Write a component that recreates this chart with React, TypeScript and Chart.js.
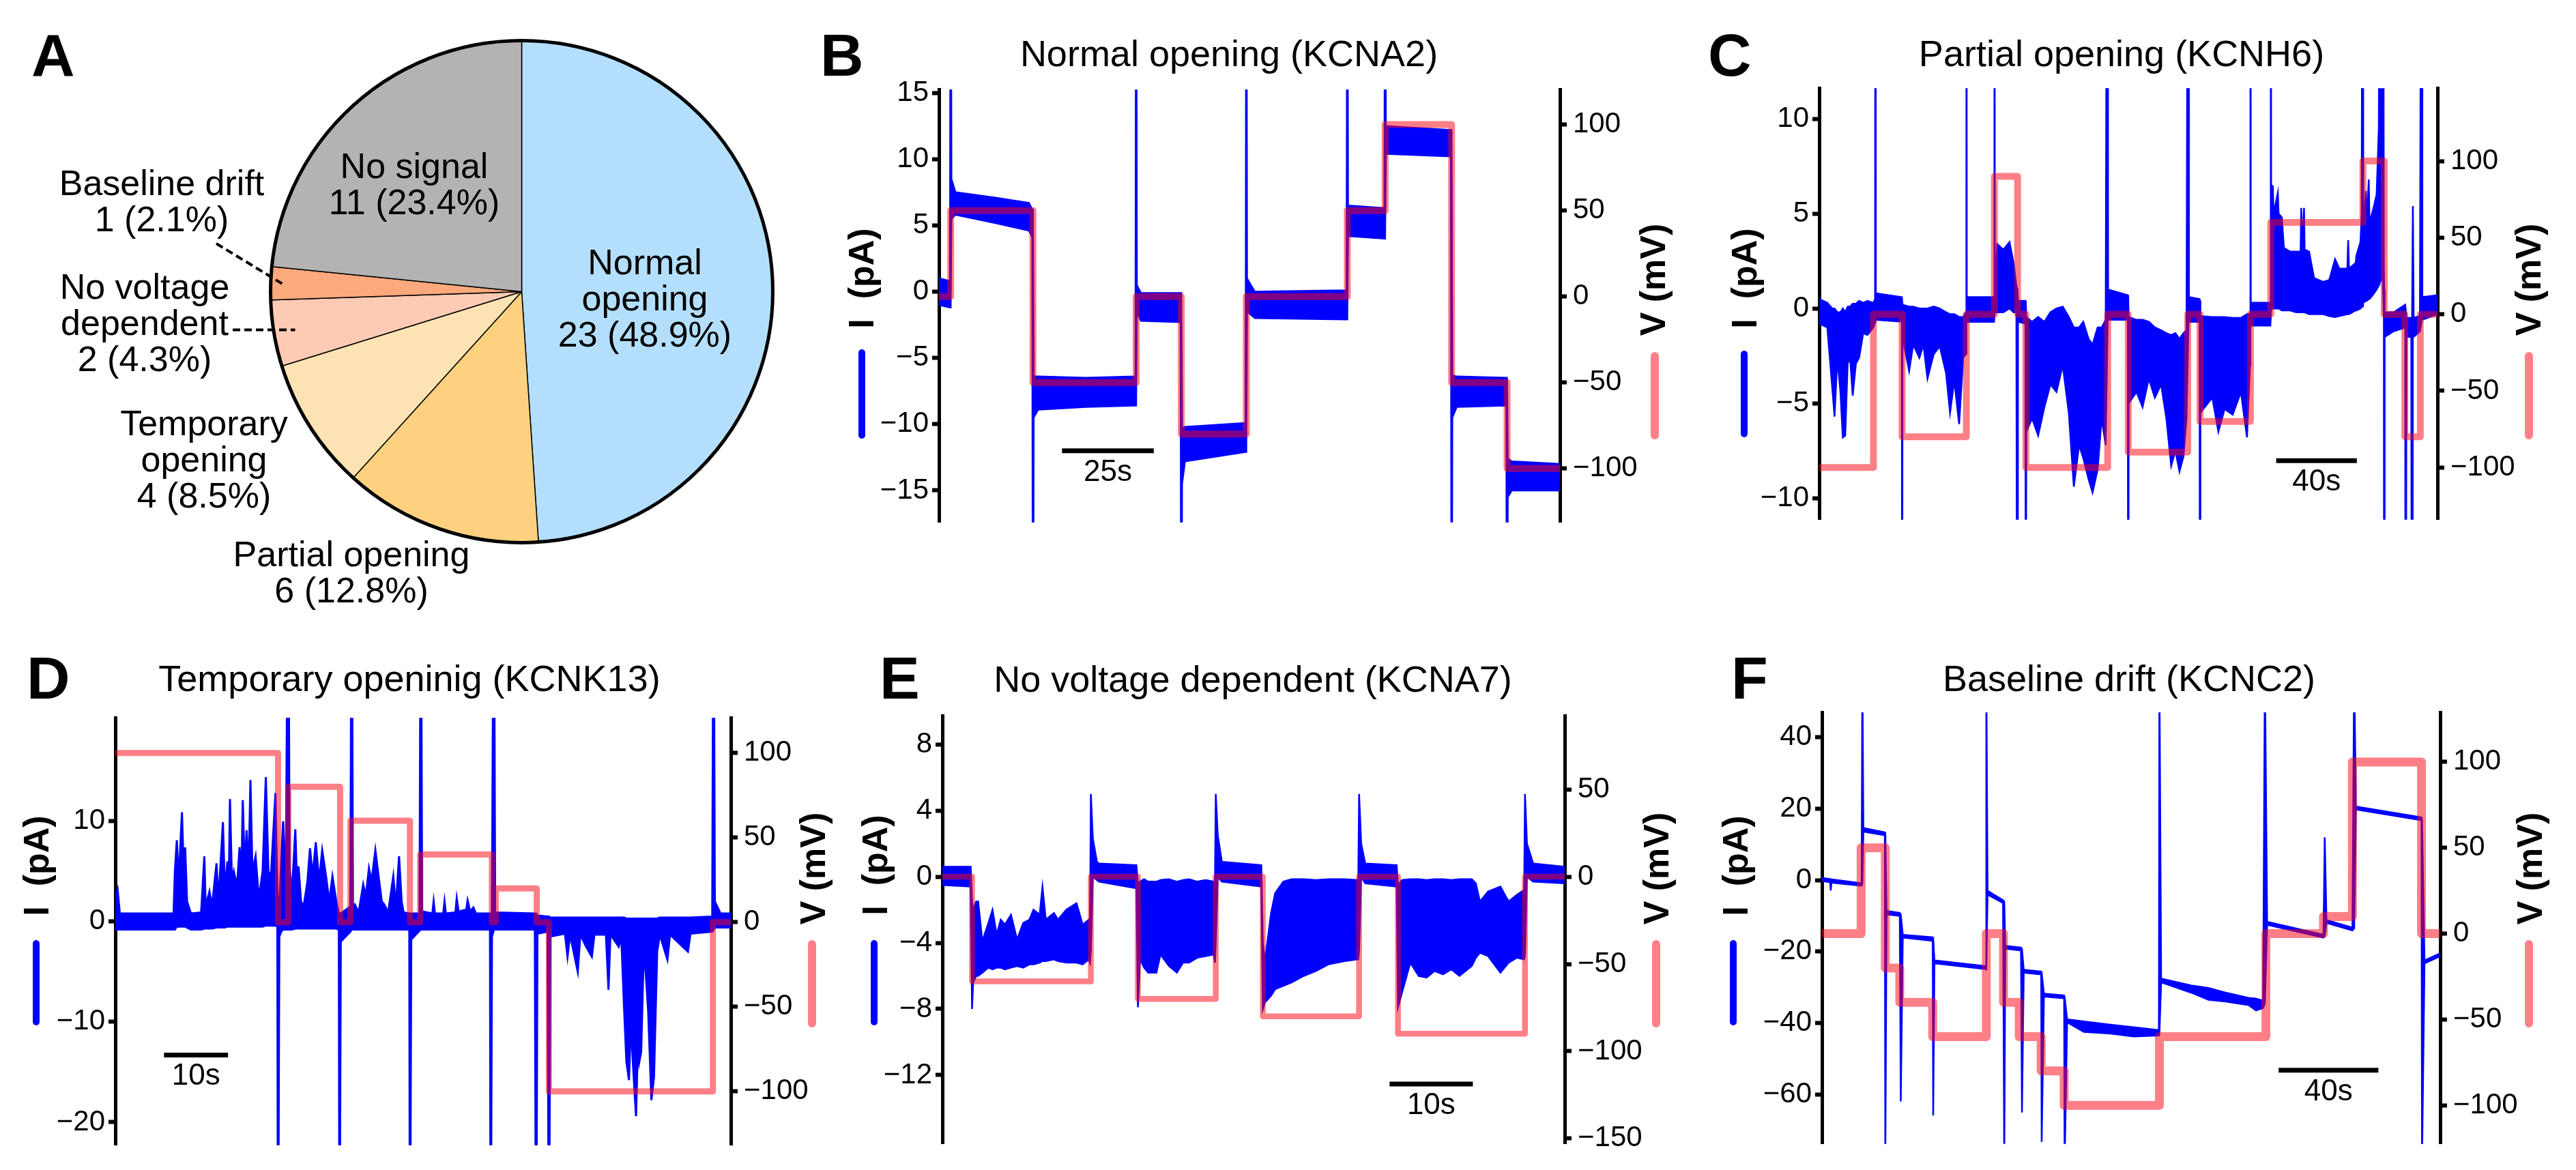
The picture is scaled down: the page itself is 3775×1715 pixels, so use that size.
import React, { useEffect, useRef } from 'react';
import { Chart, registerables } from 'chart.js';
Chart.register(...registerables);

const FONT = "'Liberation Sans', Arial, Helvetica, sans-serif";
Chart.defaults.font.family = FONT;
const BLUE = '#0000ff';
const PINK = 'rgba(255, 0, 16, 0.5)';
const PINK_SOLID = '#ff8088';

// ---------------- Panel A data ----------------
const PIE_CATEGORIES = ['Normal opening', 'Partial opening', 'Temporary opening', 'No voltage dependent', 'Baseline drift', 'No signal'];
const PIE_COUNTS = [23, 6, 4, 2, 1, 11];
const PIE_LABEL_LINES = [['Normal', 'opening'], ['Partial opening'], ['Temporary', 'opening'], ['No voltage', 'dependent'], ['Baseline drift'], ['No signal']];

// ---------------- Panel B data (KCNA2) : [t (s), I upper (pA), I lower (pA)] ----------------
const B_TRACE = [
  [0, 1.0, -1.0], [3.0, 0.8, -1.2], [3.2, 40, -1.2], [3.4, 8.5, 5.5], [4.5, 7.5, 5.8], [15, 7.1, 5.2], [24.5, 6.7, 4.6], [25.4, 6.2, 4.1],
  [25.6, 6.2, -40], [25.8, -6.4, -9.5], [27, -6.4, -8.9], [40, -6.5, -8.7], [53.5, -6.4, -8.6], [53.7, 40, -8.6], [53.9, 0.5, -1.5],
  [55, -0.1, -2.2], [65.8, -0.1, -2.3], [66.0, -0.1, -40], [66.2, -10.3, -14.5], [67, -10.2, -12.8], [83.5, -9.9, -12.1], [83.7, 40, -12.1],
  [83.9, 1.0, -1.5], [86, 0.0, -2.0], [111.0, 0.1, -2.1], [111.2, 40, -2.1], [111.4, 6.5, 4.2], [121.3, 6.3, 4.0], [121.5, 40, 4.0],
  [121.7, 12.5, 10.4], [139.4, 12.2, 10.2], [139.6, 12.2, -40], [139.8, -6.3, -9.5], [141, -6.4, -8.7], [154.5, -6.5, -8.6],
  [154.7, -6.5, -40], [154.9, -12.6, -15.5], [156, -12.8, -15.0], [169.1, -13.0, -15.0],
];
const B_STEPS = [[0, 0], [3.2, 50], [25.6, -50], [53.7, 0], [66.0, -80], [83.7, 0], [111.2, 50], [121.5, 100], [139.6, -50], [154.7, -100], [169.1, -100]];
const B_I_TICKS = [-15, -10, -5, 0, 5, 10, 15];
const B_V_TICKS = [-100, -50, 0, 50, 100];
const B_BAR = [33.5, 58.5];

// ---------------- Panel C data (KCNH6) ----------------
const C_TRACE = [
  [0, 0.5, -0.8], [4.0, 0.3, -1.0], [6.4, 0.0, -4.1], [7.6, 0.0, -5.7], [9.0, -0.2, -2.6], [10.5, -0.2, -4.4], [11.7, 0.0, -6.8],
  [12.9, -0.2, -6.7], [14.1, 0.1, -2.9], [15.3, 0.1, -2.6], [16.6, 0.25, -4.6], [18.2, 0.25, -2.9], [19.8, 0.4, -2.6], [21.8, 0.3, -1.3],
  [23.9, 0.4, -1.4], [26.9, 0.3, -1.0], [27.7, 0.5, -0.7], [27.9, 40, -0.7], [28.1, 0.8, -0.6], [41.0, 0.6, -0.7], [41.1, 0.6, -40],
  [41.3, 0.2, -1.5], [44.6, 0.1, -3.3], [46.6, 0.1, -1.9], [49.7, 0.0, -2.6], [51.7, 0.0, -1.9], [53.7, 0.0, -3.7], [56.8, 0.1, -2.4],
  [59.8, 0.0, -2.0], [62.9, -0.2, -3.4], [64.9, -0.3, -5.5], [67.0, -0.3, -3.8], [69.4, -0.45, -6.1], [71.4, -0.45, -2.6], [72.8, -0.2, -2.4],
  [73.0, 40, -0.7], [73.2, 0.6, -0.7], [86.7, 0.6, -0.7], [86.9, 40, -0.7], [87.1, 1.2, -0.2], [88.3, 3.4, -0.2], [91.3, 3.1, -0.2],
  [94.4, 3.5, 0.0], [96.4, 2.4, -0.2], [97.8, 1.2, -0.2], [98.4, 1.0, -40], [98.6, 0.4, -0.7], [102.3, 0.4, -0.8], [102.5, 0.3, -40],
  [102.7, -0.45, -6.5], [105.6, -0.7, -5.8], [108.6, -0.45, -6.7], [111.7, -0.7, -5.2], [114.7, -0.2, -4.0], [117.7, 0.0, -4.4],
  [120.8, 0.1, -3.0], [123.8, -0.45, -5.5], [126.3, -1.0, -9.4], [128.9, -1.0, -7.2], [131.0, -0.7, -7.9], [133.6, -1.6, -9.0],
  [135.6, -1.9, -9.7], [138.1, -1.0, -8.5], [140.1, -1.0, -5.8], [142.1, -0.6, -7.2], [143.1, 40, -0.6], [143.3, 1.0, -0.6],
  [153.1, 0.7, -0.6], [153.3, 0.5, -40], [153.5, -0.45, -5.0], [157.4, -0.6, -4.4], [160.4, -0.6, -5.2], [163.5, -0.7, -3.7],
  [166.5, -1.0, -4.7], [169.6, -1.15, -4.0], [172.2, -1.3, -5.8], [174.6, -1.4, -8.3], [176.7, -1.3, -7.5], [178.7, -1.6, -8.6],
  [180.7, -1.3, -7.8], [182.2, -1.15, -5.8], [183.2, 40, -0.7], [183.4, 0.6, -0.7], [188.7, 0.5, -0.7], [188.9, 0.4, -40],
  [189.1, -0.4, -5.5], [195.0, -0.45, -4.7], [198.0, -0.45, -6.5], [201.1, -0.45, -5.3], [205.1, -0.5, -5.6], [209.2, -0.5, -4.4],
  [212.2, -0.3, -6.8], [213.7, -0.3, -3.0], [213.9, 40, -0.9], [214.1, 0.3, -0.9], [223.8, 0.3, -0.9], [224.0, 40, -0.9],
  [224.2, 4.5, 0.0], [225.0, 6.5, 0.0], [225.4, 5.0, 0.0], [227.5, 6.1, 0.0], [227.9, 5.0, 0.0], [229.5, 4.8, -0.1], [230.5, 3.2, -0.1],
  [233.6, 3.0, -0.1], [236.6, 3.0, -0.2], [238.8, 3.0, -0.2], [239.1, 5.3, -0.2], [239.4, 3.2, -0.2], [240.5, 5.3, -0.2], [240.8, 3.1, -0.2],
  [243.0, 3.0, -0.3], [245.5, 1.6, -0.3], [250.0, 1.4, -0.3], [253.0, 1.5, -0.4], [255.9, 2.6, -0.45], [258.0, 2.1, -0.4], [262.0, 2.1, -0.3],
  [262.4, 3.6, -0.3], [262.8, 2.1, -0.3], [266.1, 2.4, -0.1], [266.5, 2.8, -0.1], [268.5, 3.5, 0.0], [269.1, 5.0, 0.1], [269.7, 40, 0.1],
  [269.9, 4.0, 0.3], [271.2, 6.2, 0.4], [271.6, 4.3, 0.4], [272.6, 6.8, 0.5], [273.0, 4.5, 0.5], [275.2, 5.4, 0.8], [276.5, 6.0, 1.0],
  [277.6, 9.5, 1.2], [278.6, 40, 1.5], [279.6, 40, 1.5], [280.1, 2.0, -0.5], [280.3, 1.0, -40], [280.5, -0.2, -1.5], [285.0, -0.2, -1.2],
  [290.7, 0.2, -1.0], [290.9, 0.0, -40], [291.3, -0.5, -1.5], [293.7, -0.5, -1.5], [294.1, -0.5, -40], [294.5, 5.4, -1.5],
  [294.9, -0.5, -1.5], [298.0, -0.4, -1.2], [299.0, 40, -0.6], [299.2, 0.6, -0.6], [306.7, 0.7, -0.3],
];
const C_STEPS = [[0, -100], [26.9, 0], [41.1, -80], [73.0, 0], [86.9, 90], [98.4, 0], [102.5, -100], [143.1, 0], [153.3, -90], [182.8, 0], [188.9, -70], [213.9, 0], [224.0, 60], [269.7, 100], [280.3, 0], [290.5, -80], [298.2, 0], [306.7, 0]];
const C_I_TICKS = [-10, -5, 0, 5, 10];
const C_V_TICKS = [-100, -50, 0, 50, 100];
const C_BAR = [226.7, 266.7];

// ---------------- Panel D data (KCNK13) ----------------
const D_TRACE = [
  [0, 2.5, -0.8], [0.35, 3.2, -0.8], [0.7, 0.8, -0.8], [9.1, 0.8, -0.8], [9.3, 5.0, -0.8], [9.6, 8.1, -0.5], [9.9, 4.0, -0.5], [10.4, 10.9, -0.5],
  [10.7, 4.5, -0.5], [10.9, 7.4, -0.5], [11.2, 2.0, -0.6], [11.8, 0.8, -0.8], [13.4, 0.9, -0.8], [13.9, 6.5, -0.7], [14.1, 1.5, -0.7],
  [14.7, 3.0, -0.7], [15.1, 1.5, -0.7], [15.8, 5.8, -0.6], [16.1, 2.0, -0.6], [16.8, 9.9, -0.6], [17.1, 3.0, -0.6], [17.5, 6.0, -0.5],
  [17.7, 3.0, -0.5], [17.9, 12.2, -0.5], [18.2, 4.0, -0.5], [18.5, 5.0, -0.5], [19.0, 3.5, -0.5], [19.4, 7.4, -0.5], [19.7, 4.5, -0.5],
  [19.9, 12.1, -0.5], [20.2, 5.0, -0.5], [20.5, 9.1, -0.5], [20.8, 4.5, -0.5], [21.1, 14.1, -0.5], [21.4, 5.0, -0.5], [21.9, 6.5, -0.5],
  [22.4, 2.3, -0.5], [23.0, 5.0, -0.5], [23.5, 14.4, -0.4], [23.9, 5.0, -0.4], [24.3, 4.5, -0.4], [25.0, 12.8, -0.4], [25.3, 3.0, -0.5],
  [25.4, 1.0, -40], [25.6, 1.5, -1.5], [25.9, 6.0, -1.0], [26.2, 10.0, -0.8], [26.6, 3.0, -0.8], [27.0, 40, -0.8], [27.2, 5.3, -0.8],
  [27.6, 3.0, -0.8], [28.1, 9.2, -0.7], [28.4, 3.0, -0.7], [28.6, 5.5, -0.7], [29.0, 2.0, -0.7], [29.4, 1.5, -0.7], [30.0, 4.0, -0.7],
  [30.4, 7.3, -0.7], [30.8, 4.5, -0.7], [31.3, 7.9, -0.7], [31.8, 4.0, -0.7], [32.3, 7.1, -0.7], [32.9, 4.5, -0.7], [33.4, 2.0, -0.7],
  [33.9, 4.5, -0.7], [34.5, 2.0, -0.7], [34.9, 0.8, -0.8], [35.0, 0.8, -40], [35.2, 0.8, -2.0], [36.7, 1.5, -1.0], [36.9, 40, -0.8],
  [37.1, 1.5, -0.8], [37.4, 1.7, -0.8], [38.0, 0.9, -0.8], [38.7, 3.7, -0.8], [39.1, 2.5, -0.8], [39.6, 5.3, -0.8], [40.0, 4.0, -0.8],
  [40.6, 7.1, -0.8], [41.2, 4.0, -0.8], [41.6, 2.0, -0.8], [42.0, 1.7, -0.8], [42.6, 0.9, -0.8], [43.4, 4.5, -0.8], [43.8, 1.5, -0.8],
  [44.3, 6.5, -0.8], [44.7, 2.0, -0.8], [45.0, 0.9, -0.8], [45.9, 0.8, -0.8], [46.0, 0.8, -40], [46.2, 0.8, -1.8], [47.5, 0.8, -0.9],
  [47.7, 40, -0.8], [47.9, 1.0, -0.8], [49.5, 0.8, -0.8], [49.7, 2.0, -0.8], [49.9, 0.8, -0.8], [51.2, 0.8, -0.8], [51.4, 2.0, -0.8],
  [51.6, 0.8, -0.8], [53.1, 0.9, -0.8], [53.3, 2.3, -0.8], [53.6, 1.0, -0.8], [54.8, 1.2, -0.8], [55.0, 2.1, -0.8], [55.4, 1.0, -0.8],
  [55.9, 1.4, -0.8], [56.3, 0.8, -0.8], [58.5, 0.8, -0.8], [58.6, 0.8, -40], [58.8, 0.8, -1.5], [59.1, 40, -0.8], [59.3, 0.9, -0.8],
  [65.5, 0.8, -0.8], [65.7, 0.8, -40], [65.9, 0.6, -1.2], [67.5, 0.5, -1.0], [67.7, 0.5, -40], [67.9, 0.4, -1.5], [70.2, 0.4, -1.2],
  [70.6, 0.4, -3.5], [71.0, 0.4, -1.3], [72.2, 0.4, -5.0], [72.6, 0.4, -1.3], [73.5, 0.4, -2.5], [74.4, 0.4, -3.5], [74.8, 0.4, -1.3],
  [76.6, 0.4, -1.3], [77.0, 0.4, -6.8], [77.3, 0.4, -1.3], [78.6, 0.4, -2.5], [79.0, 0.4, -1.5], [79.4, 0.4, -8.1], [79.8, 0.3, -14.0],
  [80.2, 0.3, -15.8], [80.5, 0.3, -10.0], [80.8, 0.3, -14.0], [81.3, 0.3, -19.4], [81.6, 0.3, -12.0], [81.8, 0.3, -14.0], [82.1, 0.3, -13.0],
  [82.5, 0.3, -3.0], [82.8, 0.3, -5.0], [83.2, 0.3, -9.0], [83.7, 0.3, -17.8], [84.1, 0.3, -15.5], [84.6, 0.3, -3.0], [85.0, 0.4, -1.3],
  [86.2, 0.4, -3.8], [86.6, 0.4, -1.3], [89.4, 0.4, -3.0], [89.8, 0.4, -1.2], [93.2, 0.5, -1.0], [93.4, 40, -0.8], [93.6, 2.0, -0.6],
  [94.5, 0.8, -0.6], [96.1, 0.8, -0.6],
];
const D_STEPS = [[0, 100], [25.4, 0], [27.0, 80], [35.1, 0], [36.7, 60], [46.0, 0], [47.6, 40], [58.8, 0], [59.4, 20], [65.8, 0], [67.7, -100], [93.3, 0], [96.1, 0]];
const D_I_TICKS = [-20, -10, 0, 10];
const D_V_TICKS = [-100, -50, 0, 50, 100];
const D_BAR = [7.6, 17.6];

// ---------------- Panel E data (KCNA7) ----------------
const E_TRACE = [
  [0, 0.6, -0.5], [3.4, 0.6, -0.6], [3.56, -1.5, -8.0], [3.7, -2.0, -6.4], [4.06, -1.5, -6.0], [4.3, -1.5, -6.0], [4.8, -3.9, -5.8],
  [5.53, -2.8, -5.5], [6.02, -2.0, -5.6], [6.52, -3.5, -5.5], [7.01, -2.6, -5.5], [7.5, -2.9, -5.6], [8.24, -2.3, -5.5], [8.97, -3.8, -5.4],
  [9.71, -2.8, -5.5], [10.45, -2.6, -5.3], [10.94, -2.0, -5.3], [11.68, -2.3, -5.2], [12.02, -0.6, -5.1], [12.42, -2.6, -5.1],
  [13.4, -2.2, -5.0], [13.89, -2.6, -5.1], [14.88, -2.0, -5.2], [16.11, -1.6, -5.2], [16.84, -2.9, -5.3], [17.58, -2.6, -5.0],
  [17.73, -2.8, -5.2], [17.83, 5.0, -4.5], [18.07, 2.3, 0.0], [18.56, 0.9, -0.2], [18.81, 0.8, -0.3], [23.3, 0.7, -0.7],
  [23.48, -0.4, -7.9], [23.73, -0.3, -5.0], [24.22, -0.15, -5.5], [24.71, -0.3, -5.8], [25.7, -0.3, -5.8], [26.19, -0.2, -4.7],
  [27.2, -0.15, -5.4], [28.16, -0.3, -5.8], [28.9, -0.2, -5.2], [29.63, -0.15, -5.2], [30.6, -0.3, -4.9], [31.6, -0.2, -4.8],
  [32.58, -0.3, -4.7], [32.73, -0.3, -5.2], [32.83, 5.0, -4.0], [33.07, 2.5, 0.0], [33.56, 0.9, -0.3], [38.3, 0.7, -0.6],
  [38.48, -4.0, -8.0], [38.73, -5.1, -7.6], [39.47, -2.2, -7.2], [39.96, -1.0, -6.8], [40.94, -0.3, -6.6], [41.93, -0.15, -6.4],
  [43.4, -0.15, -6.0], [44.88, -0.2, -5.7], [46.35, -0.15, -5.3], [48.32, -0.15, -5.1], [49.79, -0.2, -5.0], [49.94, -0.3, -5.0],
  [50.04, 5.0, -4.5], [50.29, 2.0, 0.0], [50.78, 0.8, -0.4], [54.55, 0.7, -0.6], [54.71, -0.5, -7.9], [55.2, -0.2, -7.0],
  [56.19, -0.15, -5.2], [57.2, -0.15, -6.0], [58.15, -0.2, -6.1], [59.1, -0.15, -5.7], [60.12, -0.15, -5.9], [61.1, -0.2, -5.6],
  [62.09, -0.15, -6.0], [63.57, -0.15, -5.4], [64.06, -0.4, -4.9], [64.55, -1.5, -4.6], [65.53, -0.9, -4.8], [67.01, -0.6, -5.8],
  [67.99, -1.5, -5.2], [68.97, -1.1, -4.9], [69.86, -0.8, -5.0], [69.96, 5.0, -4.8], [70.2, 2.0, 0.0], [70.94, 0.8, -0.3], [74.73, 0.6, -0.4],
];
const E_STEPS = [[0, 0], [3.56, -60], [17.83, 0], [23.48, -70], [32.83, 0], [38.48, -80], [50.04, 0], [54.71, -90], [69.96, 0], [74.73, 0]];
const E_I_TICKS = [-12, -8, -4, 0, 4, 8];
const E_V_TICKS = [-150, -100, -50, 0, 50];
const E_BAR = [53.7, 63.7];

// ---------------- Panel F data (KCNC2) ----------------
const F_TRACE = [
  [0, 0.6, -0.2], [3.3, 0.3, -0.6], [3.5, 0.3, -2.9], [3.8, 0.2, -0.7], [15.0, -0.8, -1.5], [15.9, -0.8, -1.5], [16.2, 60, -1.0],
  [16.6, 14.6, 13.6], [25.2, 13.4, 12.6], [25.4, 13.0, -80], [25.9, -8.6, -9.6], [31.2, -9.2, -10.0], [31.6, -9.6, -62.0],
  [32.4, -15.3, -16.1], [44.4, -16.0, -17.0], [44.6, -16.5, -65.9], [45.1, -22.5, -23.3], [65.7, -24.1, -24.9], [65.9, 60, -25.0],
  [66.4, -3.0, -4.0], [72.6, -5.6, -6.4], [73.1, -6.0, -80], [73.5, -18.4, -19.2], [79.8, -18.9, -19.7], [80.2, -19.3, -65.1],
  [80.9, -25.1, -25.9], [87.9, -25.6, -26.4], [88.1, -26.0, -73.3], [89.0, -31.8, -32.6], [97.1, -32.3, -33.1], [97.3, -32.7, -80],
  [98.3, -39.0, -39.8], [105.0, -39.6, -42.5], [115.6, -40.5, -43.0], [125.0, -41.2, -43.8], [135.1, -42.0, -43.5], [135.3, 60, -43.0],
  [136.0, -27.6, -28.6], [148.0, -29.5, -31.5], [155.0, -30.2, -33.5], [161.8, -31.5, -34.0], [171.1, -33.0, -35.0], [174.0, -33.2, -36.5],
  [176.9, -33.8, -35.8], [177.6, 60, -34.5], [178.5, -11.7, -12.5], [201.1, -15.3, -16.1], [201.6, 12.0, -15.5], [202.3, -11.2, -12.0],
  [212.7, -13.3, -14.1], [213.4, 60, -13.5], [214.1, 20.6, 19.8], [240.4, 17.6, 16.8], [240.6, 17.2, -80], [241.6, -22.5, -23.3],
  [247.9, -20.5, -21.3],
];
const F_STEPS = [[0, 0], [15.7, 50], [25.4, -20], [31.2, -40], [44.4, -60], [65.9, 0], [72.8, -40], [79.1, -60], [87.9, -80], [97.1, -100], [135.3, -60], [178.0, 0], [201.1, 10], [212.7, 100], [240.4, 0], [247.9, 0]];
const F_I_TICKS = [-60, -40, -20, 0, 20, 40];
const F_V_TICKS = [-100, -50, 0, 50, 100];
const F_BAR = [183.1, 223.1];

// ---------------- layout / style (not data) ----------------
type Box = { L: number; R: number; T: number; B: number };
type PanelSpec = {
  trace: number[][]; steps: number[][]; tMax: number;
  iRange: number[]; vRange: number[]; iTicks: number[]; vTicks: number[];
  bar: number[]; barI: number; barLabel: string; box: Box; vWidth: number; iWidth: number;
};

const PANELS: PanelSpec[] = [
  { trace: B_TRACE, steps: B_STEPS, tMax: 169.1, iRange: [-17.41, 15.25], vRange: [-131.4, 120.4], iTicks: B_I_TICKS, vTicks: B_V_TICKS, bar: B_BAR, barI: -12.0, barLabel: '25s', box: { L: 1376, R: 2286, T: 127, B: 770 }, vWidth: 10, iWidth: 2.5 },
  { trace: C_TRACE, steps: C_STEPS, tMax: 306.7, iRange: [-11.14, 11.62], vRange: [-134.1, 147.6], iTicks: C_I_TICKS, vTicks: C_V_TICKS, bar: C_BAR, barI: -8.03, barLabel: '40s', box: { L: 2666, R: 3572, T: 125, B: 766 }, vWidth: 10, iWidth: 2.5 },
  { trace: D_TRACE, steps: D_STEPS, tMax: 96.1, iRange: [-22.3, 20.3], vRange: [-131.9, 120.8], iTicks: D_I_TICKS, vTicks: D_V_TICKS, bar: D_BAR, barI: -13.3, barLabel: '10s', box: { L: 169, R: 1071, T: 1048, B: 1683 }, vWidth: 9, iWidth: 3 },
  { trace: E_TRACE, steps: E_STEPS, tMax: 74.73, iRange: [-16.16, 9.73], vRange: [-153.1, 92.2], iTicks: E_I_TICKS, vTicks: E_V_TICKS, bar: E_BAR, barI: -12.54, barLabel: '10s', box: { L: 1381, R: 2293, T: 1045, B: 1681 }, vWidth: 8.5, iWidth: 2.5 },
  { trace: F_TRACE, steps: F_STEPS, tMax: 247.9, iRange: [-73.9, 47.0], vRange: [-122.5, 128.9], iTicks: F_I_TICKS, vTicks: F_V_TICKS, bar: F_BAR, barI: -53.25, barLabel: '40s', box: { L: 2670, R: 3576, T: 1040, B: 1681 }, vWidth: 13, iWidth: 2.5 },
];

const PIE_COLORS = ['#b3dffc', '#fdd17f', '#fde3b3', '#fdcbb3', '#fca97e', '#b3b3b3'];
const PIE_LABEL_POS = [[945, 402], [515, 830], [299, 638], [212, 438], [237, 286], [607, 261]];

const LW = 110, RW = 130, PT = 30, PB = 30;

function fmt(v: number) {
  return v < 0 ? '\u2212' + Math.abs(v) : String(v);
}

function TraceChart({ spec }: { spec: PanelSpec }) {
  const ref = useRef<HTMLCanvasElement>(null);
  const { L, R, T, B } = spec.box;
  const width = R - L + LW + RW;
  const height = B - T + PT + PB;
  useEffect(() => {
    const canvas = ref.current;
    if (!canvas) return;
    const barLabel = {
      id: 'barLabel',
      afterDatasetsDraw(chart: any) {
        const ctx = chart.ctx;
        const xs = chart.scales.x;
        const ys = chart.scales.i;
        const cx = xs.getPixelForValue((spec.bar[0] + spec.bar[1]) / 2);
        const cy = ys.getPixelForValue(spec.barI);
        ctx.save();
        ctx.font = `44px ${FONT}`;
        ctx.fillStyle = '#000';
        ctx.textAlign = 'center';
        ctx.textBaseline = 'alphabetic';
        ctx.fillText(spec.barLabel, cx, cy + 44);
        ctx.restore();
      },
    };
    const yScale = (pos: string, range: number[], ticks: number[], pad: number) => ({
      type: 'linear',
      axis: 'y',
      position: pos,
      min: range[0],
      max: range[1],
      afterBuildTicks: (s: any) => { s.ticks = ticks.map((v) => ({ value: v })); },
      afterFit: (s: any) => { s.width = pos === 'left' ? LW : RW; },
      ticks: { autoSkip: false, color: '#000', padding: pad, font: { size: 42, family: FONT }, callback: (v: any) => fmt(Number(v)) },
      grid: { display: true, drawOnChartArea: false, drawTicks: true, tickLength: 10, tickWidth: 6, tickColor: '#000', color: '#000' },
      border: { display: true, width: 5, color: '#000' },
    });
    const chart = new Chart(canvas, {
      type: 'line',
      data: {
        datasets: [
          {
            label: 'V', data: spec.steps.map((s) => ({ x: s[0], y: s[1] })), yAxisID: 'v', xAxisID: 'x',
            stepped: true, borderColor: PINK, borderWidth: spec.vWidth, borderJoinStyle: 'round', borderCapStyle: 'round',
            pointRadius: 0, fill: false, order: 0, clip: 0,
          },
          {
            label: 'scale', data: spec.bar.map((t) => ({ x: t, y: spec.barI })), yAxisID: 'i', xAxisID: 'x',
            borderColor: '#000', borderWidth: 7, pointRadius: 0, fill: false, order: 0, clip: 10,
          },
          {
            label: 'I upper', data: spec.trace.map((r) => ({ x: r[0], y: r[1] })), yAxisID: 'i', xAxisID: 'x',
            borderColor: BLUE, backgroundColor: BLUE, borderWidth: spec.iWidth, pointRadius: 0, fill: '+1', order: 1, clip: 0,
          },
          {
            label: 'I lower', data: spec.trace.map((r) => ({ x: r[0], y: r[2] })), yAxisID: 'i', xAxisID: 'x',
            borderColor: BLUE, backgroundColor: BLUE, borderWidth: spec.iWidth, pointRadius: 0, fill: false, order: 2, clip: 0,
          },
        ],
      },
      options: {
        animation: false,
        responsive: false,
        maintainAspectRatio: false,
        devicePixelRatio: 1,
        events: [],
        layout: { padding: { top: PT, bottom: PB, left: 0, right: 0 } },
        plugins: { legend: { display: false }, tooltip: { enabled: false } },
        elements: { point: { radius: 0 }, line: { tension: 0 } },
        scales: {
          x: { type: 'linear', display: false, min: 0, max: spec.tMax },
          i: yScale('left', spec.iRange, spec.iTicks, 5),
          v: yScale('right', spec.vRange, spec.vTicks, 9),
        },
      } as any,
      plugins: [barLabel],
    } as any);
    return () => chart.destroy();
  }, [spec]);
  return (
    <canvas
      ref={ref}
      width={width}
      height={height}
      style={{ position: 'absolute', left: L - LW, top: T - PT, width, height }}
    />
  );
}

function PieChart() {
  const ref = useRef<HTMLCanvasElement>(null);
  const W = 1150, H = 900;
  useEffect(() => {
    const canvas = ref.current;
    if (!canvas) return;
    const cx = 764.5, cy = 427.5, r = 368, bw = 1.5;
    const half = r + bw / 2;
    const outline = {
      id: 'outline',
      afterDatasetsDraw(chart: any) {
        const a = chart.getDatasetMeta(0).data[0];
        const ctx = chart.ctx;
        ctx.save();
        ctx.beginPath();
        ctx.arc(a.x, a.y, a.outerRadius, 0, Math.PI * 2);
        ctx.lineWidth = 5;
        ctx.strokeStyle = '#000';
        ctx.stroke();
        ctx.restore();
      },
    };
    const leaders = {
      id: 'leaders',
      afterDraw(chart: any) {
        const meta = chart.getDatasetMeta(0);
        const pt = (i: number, f: number) => {
          const a = meta.data[i];
          const m = (a.startAngle + a.endAngle) / 2;
          return [a.x + a.outerRadius * f * Math.cos(m), a.y + a.outerRadius * f * Math.sin(m)];
        };
        const ctx = chart.ctx;
        ctx.save();
        ctx.strokeStyle = '#000';
        ctx.lineWidth = 4;
        ctx.setLineDash([11, 6]);
        const p4 = pt(4, 0.955);
        ctx.beginPath();
        ctx.moveTo(317, 357);
        ctx.lineTo(p4[0], p4[1]);
        ctx.stroke();
        const p3 = pt(3, 0.915);
        ctx.beginPath();
        ctx.moveTo(341, p3[1]);
        ctx.lineTo(p3[0], p3[1]);
        ctx.stroke();
        ctx.restore();
      },
    };
    const chart = new Chart(canvas, {
      type: 'pie',
      data: {
        labels: PIE_CATEGORIES,
        datasets: [{ data: PIE_COUNTS, backgroundColor: PIE_COLORS, borderColor: '#000', borderWidth: bw }],
      },
      options: {
        animation: false,
        responsive: false,
        maintainAspectRatio: false,
        devicePixelRatio: 1,
        events: [],
        layout: { padding: { left: cx - half, top: cy - half, right: W - (cx + half), bottom: H - (cy + half) } },
        plugins: { legend: { display: false }, tooltip: { enabled: false } },
      } as any,
      plugins: [outline, leaders],
    } as any);
    return () => chart.destroy();
  }, []);
  return <canvas ref={ref} width={W} height={H} style={{ position: 'absolute', left: 0, top: 0, width: W, height: H }} />;
}

function Txt({ x, y, size, bold, anchor, children }: { x: number; y: number; size: number; bold?: boolean; anchor?: string; children: any }) {
  return (
    <div
      style={{
        position: 'absolute', left: x, top: y - 0.8465 * size, fontFamily: FONT, fontSize: size,
        fontWeight: bold ? 700 : 400, lineHeight: `${size}px`, whiteSpace: 'pre', color: '#000',
        transform: anchor === 'start' ? undefined : 'translateX(-50%)',
      }}
    >
      {children}
    </div>
  );
}

function VTxt({ cx, cy, size, children }: { cx: number; cy: number; size: number; children: any }) {
  return (
    <div
      style={{
        position: 'absolute', left: cx, top: cy, fontFamily: FONT, fontSize: size, fontWeight: 700,
        lineHeight: `${size}px`, whiteSpace: 'pre', color: '#000', transform: 'translate(-50%, -50%) rotate(-90deg)',
      }}
    >
      {children}
    </div>
  );
}

function Seg({ cx, y1, y2, w, color }: { cx: number; y1: number; y2: number; w: number; color: string }) {
  return <div style={{ position: 'absolute', left: cx - w / 2, top: y1, width: w, height: y2 - y1, borderRadius: w / 2, background: color }} />;
}

const TITLES = [
  ['Normal opening (KCNA2)', 1801, 97],
  ['Partial opening (KCNH6)', 3109, 97],
  ['Temporary openinig (KCNK13)', 600, 1013],
  ['No voltage dependent (KCNA7)', 1836, 1014],
  ['Baseline drift (KCNC2)', 3120, 1013],
];
const LETTERS = [['A', 46, 111], ['B', 1202, 111], ['C', 2503, 111], ['D', 39, 1024], ['E', 1289, 1024], ['F', 2537, 1024]];
const I_TITLES = [[1262, 408, 1263, 512, 643], [2556, 408, 2556, 514, 641], [53, 1269, 53, 1378, 1503], [1282, 1268, 1281, 1378, 1503], [2543, 1269, 2540, 1378, 1503]];
const V_TITLES = [[2422, 410, 2425, 516, 644], [3705, 410, 3706, 516, 644], [1191, 1273, 1190, 1378, 1506], [2427, 1273, 2427, 1378, 1506], [3707, 1273, 3706, 1378, 1506]];

export default function App() {
  const total = PIE_COUNTS.reduce((a, b) => a + b, 0);
  return (
    <div style={{ position: 'absolute', left: 0, top: 0, width: 3775, height: 1715, background: '#fff', overflow: 'hidden' }}>
      <PieChart />
      {PANELS.map((p, i) => <TraceChart key={i} spec={p} />)}
      {PIE_CATEGORIES.map((c, i) => {
        const lines = [...PIE_LABEL_LINES[i], `${PIE_COUNTS[i]} (${((PIE_COUNTS[i] / total) * 100).toFixed(1)}%)`];
        const [x, y] = PIE_LABEL_POS[i];
        return lines.map((ln, k) => <Txt key={c + k} x={x} y={y + k * 53} size={52}>{ln}</Txt>);
      })}
      {TITLES.map(([t, x, y]) => <Txt key={t as string} x={x as number} y={y as number} size={54}>{t}</Txt>)}
      {LETTERS.map(([t, x, y]) => <Txt key={t as string} x={x as number} y={y as number} size={88} bold anchor="start">{t}</Txt>)}
      {I_TITLES.map(([cx, cy, sx, y1, y2], i) => (
        <React.Fragment key={'i' + i}>
          <VTxt cx={cx} cy={cy} size={52}>{'I  (pA)'}</VTxt>
          <Seg cx={sx} y1={y1} y2={y2} w={10} color={BLUE} />
        </React.Fragment>
      ))}
      {V_TITLES.map(([cx, cy, sx, y1, y2], i) => (
        <React.Fragment key={'v' + i}>
          <VTxt cx={cx} cy={cy} size={52}>{'V (mV)'}</VTxt>
          <Seg cx={sx} y1={y1} y2={y2} w={12} color={PINK_SOLID} />
        </React.Fragment>
      ))}
    </div>
  );
}
